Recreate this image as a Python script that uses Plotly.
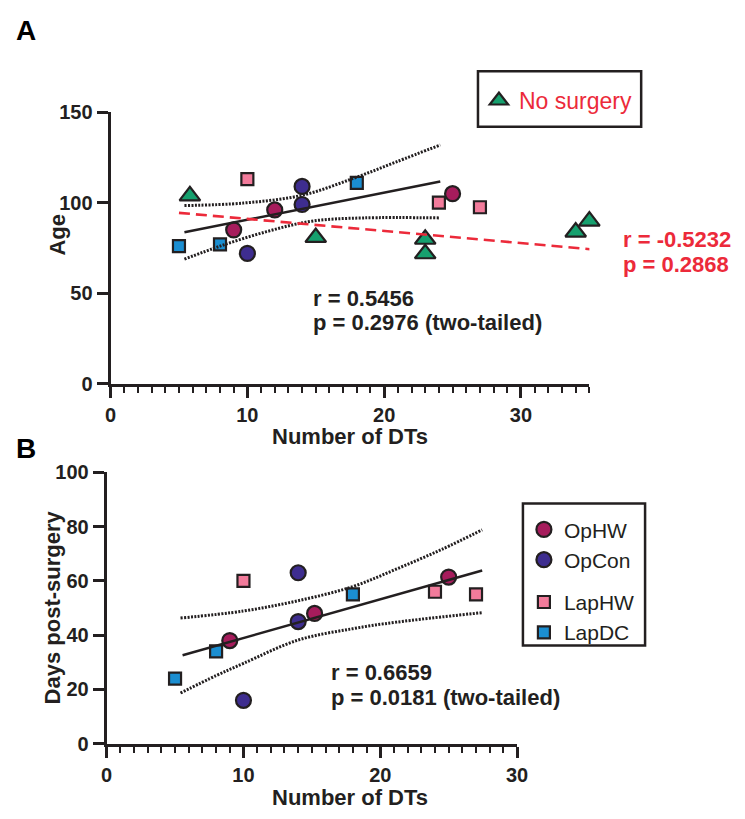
import plotly.graph_objects as go

# ---------------- data ----------------
# Panel A (Age vs Number of DTs)
a_ophw_x = [9, 12, 25]
a_ophw_y = [85, 96, 105]
a_opcon_x = [10, 14, 14]
a_opcon_y = [72, 99, 109]
a_laphw_x = [10, 24, 27]
a_laphw_y = [113, 100, 97.5]
a_lapdc_x = [5, 8, 18]
a_lapdc_y = [76, 77, 111]
a_nosurg_x = [5.8, 15, 23, 23, 34, 35]
a_nosurg_y = [103.8, 80.8, 79.8, 71.8, 83.8, 89.8]

a_fit_x = [5.4, 24.1]
a_fit_y = [83.7, 111.7]
a_ci_up_x = [5.4, 9.7, 14.0, 17.8, 20.9, 24.1]
a_ci_up_y = [98.4, 99.8, 104.1, 113.6, 122.6, 131.9]
a_ci_lo_x = [5.4, 8.0, 11.4, 14.7, 18.5, 24.1]
a_ci_lo_y = [68.8, 76.0, 84.0, 89.8, 91.6, 91.6]
a_ns_fit_x = [5.0, 35.2]
a_ns_fit_y = [94.4, 74.2]

# Panel B (Days post-surgery vs Number of DTs)
b_ophw_x = [9, 15.2, 25]
b_ophw_y = [38, 48, 61.4]
b_opcon_x = [10, 14, 14]
b_opcon_y = [16, 45, 63]
b_laphw_x = [10, 24, 27]
b_laphw_y = [60, 56, 55]
b_lapdc_x = [5, 8, 18]
b_lapdc_y = [24, 34, 55]

b_fit_x = [5.55, 27.45]
b_fit_y = [32.6, 63.8]
b_ci_up_x = [5.4, 10, 14, 18, 21.2, 24.5, 27.45]
b_ci_up_y = [46.3, 48.9, 52.7, 57.9, 64.4, 71.6, 78.8]
b_ci_lo_x = [5.4, 8, 10, 14, 18, 21.2, 27.45]
b_ci_lo_y = [18.7, 25.1, 29.6, 38.2, 42.4, 44.8, 48.3]

a_yticks = [0, 50, 100, 150]
a_xticks = [0, 10, 20, 30]
b_yticks = [0, 20, 40, 60, 80, 100]
b_xticks = [0, 10, 20, 30]

# ---------------- style ----------------
W, H = 745, 819
FONT = "Liberation Sans, Arial, Helvetica, sans-serif"
DARK = "#231F20"
OPHW = "#A61C5C"
OPCON = "#3E2D8F"
LAPHW = "#F27B9B"
LAPDC = "#1B8ED1"
GREEN = "#16A06E"
RED = "#EC2A3A"


def px(x):
    return x / W


def py(y):
    return 1 - y / H


fig = go.Figure()


def marker_trace(x, y, color, symbol, size, name, xa, ya, showlegend, group=None, legend="legend"):
    return go.Scatter(
        x=x, y=y, mode="markers", name=name, xaxis=xa, yaxis=ya,
        showlegend=showlegend, legendgroup=group, legend=legend,
        cliponaxis=False,
        marker=dict(color=color, symbol=symbol, size=size,
                    line=dict(color=DARK, width=2.2)),
    )


def line_trace(x, y, xa, ya, color=DARK, width=2.5, dash="solid", shape="linear"):
    return go.Scatter(
        x=x, y=y, mode="lines", xaxis=xa, yaxis=ya, showlegend=False,
        line=dict(color=color, width=width, dash=dash, shape=shape),
        hoverinfo="skip", cliponaxis=False,
    )


# Panel A markers
fig.add_trace(marker_trace(a_ophw_x, a_ophw_y, OPHW, "circle", 15, "OpHW", "x", "y", False))
fig.add_trace(marker_trace(a_opcon_x, a_opcon_y, OPCON, "circle", 15, "OpCon", "x", "y", False))
fig.add_trace(marker_trace(a_laphw_x, a_laphw_y, LAPHW, "square", 12, "LapHW", "x", "y", False))
fig.add_trace(marker_trace(a_lapdc_x, a_lapdc_y, LAPDC, "square", 12, "LapDC", "x", "y", False))
fig.add_trace(marker_trace(a_nosurg_x, a_nosurg_y, GREEN, "triangle-up", 18, "No surgery",
                           "x", "y", True, legend="legend2"))

# Panel A lines
fig.add_trace(line_trace(a_fit_x, a_fit_y, "x", "y"))
fig.add_trace(line_trace(a_ci_up_x, a_ci_up_y, "x", "y", width=3, dash="2px,1.4px", shape="spline"))
fig.add_trace(line_trace(a_ci_lo_x, a_ci_lo_y, "x", "y", width=3, dash="2px,1.4px", shape="spline"))
fig.add_trace(line_trace(a_ns_fit_x, a_ns_fit_y, "x", "y", color=RED, width=2.6, dash="11px,6px"))

# Panel B markers
fig.add_trace(marker_trace(b_ophw_x, b_ophw_y, OPHW, "circle", 15, "OpHW", "x2", "y2", True, "op"))
fig.add_trace(marker_trace(b_opcon_x, b_opcon_y, OPCON, "circle", 15, "OpCon", "x2", "y2", True, "op"))
fig.add_trace(marker_trace(b_laphw_x, b_laphw_y, LAPHW, "square", 12, "LapHW", "x2", "y2", True, "lap"))
fig.add_trace(marker_trace(b_lapdc_x, b_lapdc_y, LAPDC, "square", 12, "LapDC", "x2", "y2", True, "lap"))

# Panel B lines
fig.add_trace(line_trace(b_fit_x, b_fit_y, "x2", "y2"))
fig.add_trace(line_trace(b_ci_up_x, b_ci_up_y, "x2", "y2", width=3, dash="2px,1.4px", shape="spline"))
fig.add_trace(line_trace(b_ci_lo_x, b_ci_lo_y, "x2", "y2", width=3, dash="2px,1.4px", shape="spline"))

tickfont = dict(family=FONT, size=20, color=DARK, weight="bold")

common_axis = dict(
    showgrid=False, zeroline=False, showline=True, linecolor=DARK, linewidth=3,
    ticks="outside", tickcolor=DARK, tickwidth=2.5, ticklen=11,
    tickfont=tickfont, fixedrange=True,
)

fig.update_layout(
    width=W, height=H, autosize=False,
    margin=dict(l=0, r=0, t=0, b=0),
    paper_bgcolor="white", plot_bgcolor="white",
    font=dict(family=FONT, color=DARK),
    xaxis=dict(domain=[px(107), px(597)], range=[0, 35], tickvals=a_xticks,
               minor=dict(dtick=1, ticks="outside", ticklen=6, tickwidth=2, tickcolor=DARK),
               anchor="y", **common_axis),
    yaxis=dict(domain=[py(383), py(104)], range=[0, 150], tickvals=a_yticks,
               anchor="x", **common_axis),
    xaxis2=dict(domain=[px(103), px(523)], range=[0, 30], tickvals=b_xticks,
                minor=dict(dtick=1, ticks="outside", ticklen=6, tickwidth=2, tickcolor=DARK),
                anchor="y2", **common_axis),
    yaxis2=dict(domain=[py(753), py(474)], range=[0, 100], tickvals=b_yticks,
                anchor="x2", **common_axis),
    legend=dict(
        x=px(530), y=py(512), xanchor="left", yanchor="top",
        borderwidth=0, bgcolor="rgba(0,0,0,0)",
        font=dict(family=FONT, size=21, color=DARK),
        traceorder="grouped", tracegroupgap=12, itemsizing="trace",
    ),
    legend2=dict(
        x=px(484), y=py(92), xanchor="left", yanchor="middle",
        borderwidth=0, bgcolor="rgba(0,0,0,0)",
        font=dict(family=FONT, size=23, color=RED),
    ),
    shapes=[
        dict(type="rect", xref="paper", yref="paper",
             x0=px(483), x1=px(650), y0=py(119), y1=py(62),
             line=dict(color=DARK, width=2.5), fillcolor="rgba(0,0,0,0)", layer="below"),
        dict(type="rect", xref="paper", yref="paper",
             x0=px(529), x1=px(654), y0=py(652), y1=py(506),
             line=dict(color=DARK, width=2.5), fillcolor="rgba(0,0,0,0)", layer="below"),
    ],
)

ann_font = dict(family=FONT, size=22, color=DARK)
red_font = dict(family=FONT, size=22, color=RED)
annotations = [
    dict(text="<b>A</b>", x=px(8), y=py(20), font=dict(family=FONT, size=28, color="black"), xanchor="left"),
    dict(text="<b>B</b>", x=px(8), y=py(450), font=dict(family=FONT, size=28, color="black"), xanchor="left"),
    dict(text="<b>Number of DTs</b>", x=px(352), y=py(437), font=dict(family=FONT, size=22, color=DARK), xanchor="center"),
    dict(text="<b>Number of DTs</b>", x=px(352), y=py(808), font=dict(family=FONT, size=22, color=DARK), xanchor="center"),
    dict(text="<b>Age</b>", x=px(53), y=py(230), font=dict(family=FONT, size=22, color=DARK), textangle=-90),
    dict(text="<b>Days post-surgery</b>", x=px(48), y=py(613), font=dict(family=FONT, size=22, color=DARK), textangle=-90),
    dict(text="<b>r = 0.5456</b>", x=px(312), y=py(295), font=ann_font, xanchor="left"),
    dict(text="<b>p = 0.2976 (two-tailed)</b>", x=px(312), y=py(320), font=ann_font, xanchor="left"),
    dict(text="<b>r = -0.5232</b>", x=px(629), y=py(235), font=red_font, xanchor="left"),
    dict(text="<b>p = 0.2868</b>", x=px(629), y=py(260), font=red_font, xanchor="left"),
    dict(text="<b>r = 0.6659</b>", x=px(331), y=py(680), font=ann_font, xanchor="left"),
    dict(text="<b>p = 0.0181 (two-tailed)</b>", x=px(331), y=py(705), font=ann_font, xanchor="left"),
]
for a in annotations:
    a.update(xref="paper", yref="paper", showarrow=False, yanchor="middle")
    a.setdefault("xanchor", "center")
fig.update_layout(annotations=annotations)

fig.write_html("out.html",
               config={"displayModeBar": False},
               post_script="document.body.style.margin='0px';document.body.style.overflow='hidden';")
